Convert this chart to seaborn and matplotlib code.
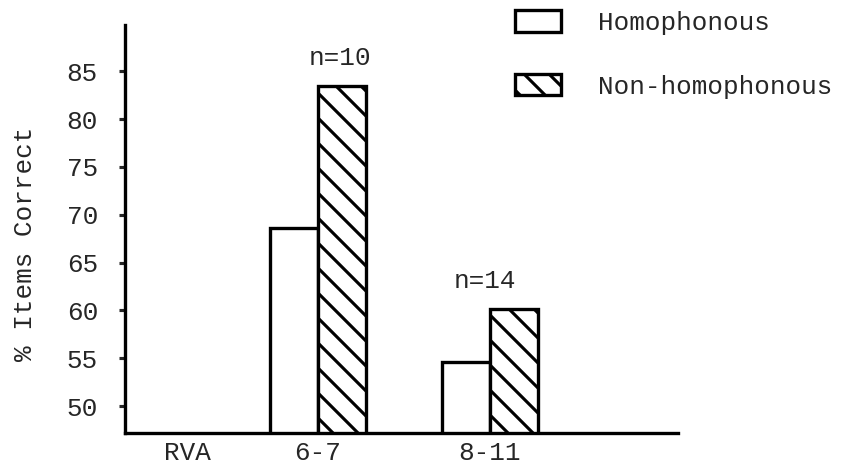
import numpy as np
import pandas as pd
import matplotlib
matplotlib.use("Agg")
import matplotlib.pyplot as plt
from matplotlib.patches import Patch
import seaborn as sns

# values
groups = ["RVA", "6-7", "8-11"]
homophonous = [np.nan, 68.6, 54.6]
non_homophonous = [np.nan, 83.5, 60.2]
n_labels = ["", "n=10", "n=14"]
series = ["Homophonous", "Non-homophonous"]

# layout (not data): where the empty RVA group and the n= labels sit
rva_pos = -0.756
n_label_dx = [0, 0.13, -0.03]

df = pd.DataFrame({
    "group": groups * 2,
    "kind": [series[0]] * len(groups) + [series[1]] * len(groups),
    "score": homophonous + non_homophonous,
}).dropna()

sns.set_style("white")
plt.rcParams["font.family"] = ["Liberation Mono", "DejaVu Sans Mono"]
plt.rcParams["hatch.linewidth"] = 1.5
plt.rcParams["hatch.color"] = "black"

dpi = 150
fig = plt.figure(figsize=(841 / dpi, 465 / dpi), dpi=dpi)
ax = fig.add_axes([0.1486, 0.0688, 0.657, 0.877])

sns.barplot(data=df, x="group", y="score", hue="kind", order=groups[1:],
            hue_order=series, palette=["white", "white"], saturation=1,
            edgecolor="black", linewidth=1.6, width=0.56, errorbar=None,
            legend=False, ax=ax)

# hatch the non-homophonous bars
hatch = "\\\\"
for bar in ax.containers[1]:
    bar.set_hatch(hatch)

# n= labels above each pair
for i, lab in enumerate(n_labels):
    if not lab:
        continue
    ax.annotate(lab, xy=(i - 1 + n_label_dx[i], non_homophonous[i]),
                xytext=(0, 13), textcoords="offset points",
                ha="center", va="center", fontsize=12.5)

ax.set_ylim(47.2, 89.8)
ax.set_xlim(-1.12, 2.09)
ax.set_yticks(range(50, 90, 5))
ax.set_xticks([rva_pos, 0, 1], labels=groups)
ax.tick_params(axis="y", left=True, length=3, width=1.5, pad=10, labelsize=12.5)
ax.tick_params(axis="x", bottom=False, length=0, pad=4, labelsize=12.5)
ax.set_xlabel("")
ax.set_ylabel("% Items Correct", fontsize=12.5)
ax.yaxis.set_label_coords(-0.16, 0.464)

sns.despine(ax=ax)
for side in ["left", "bottom"]:
    ax.spines[side].set_linewidth(1.6)
    ax.spines[side].set_color("black")

handles = [
    Patch(facecolor="white", edgecolor="black", linewidth=1.6, label=series[0]),
    Patch(facecolor="white", edgecolor="black", linewidth=1.6, hatch=hatch, label=series[1]),
]
fig.legend(handles=handles, loc="upper left", bbox_to_anchor=(515 / 841, 1 - 10 / 465),
           frameon=False, handlelength=1.75, handleheight=0.9, handletextpad=1.45,
           labelspacing=1.5, borderpad=0, borderaxespad=0, fontsize=12.5)

fig.savefig("out.png", dpi=dpi, facecolor="white")
